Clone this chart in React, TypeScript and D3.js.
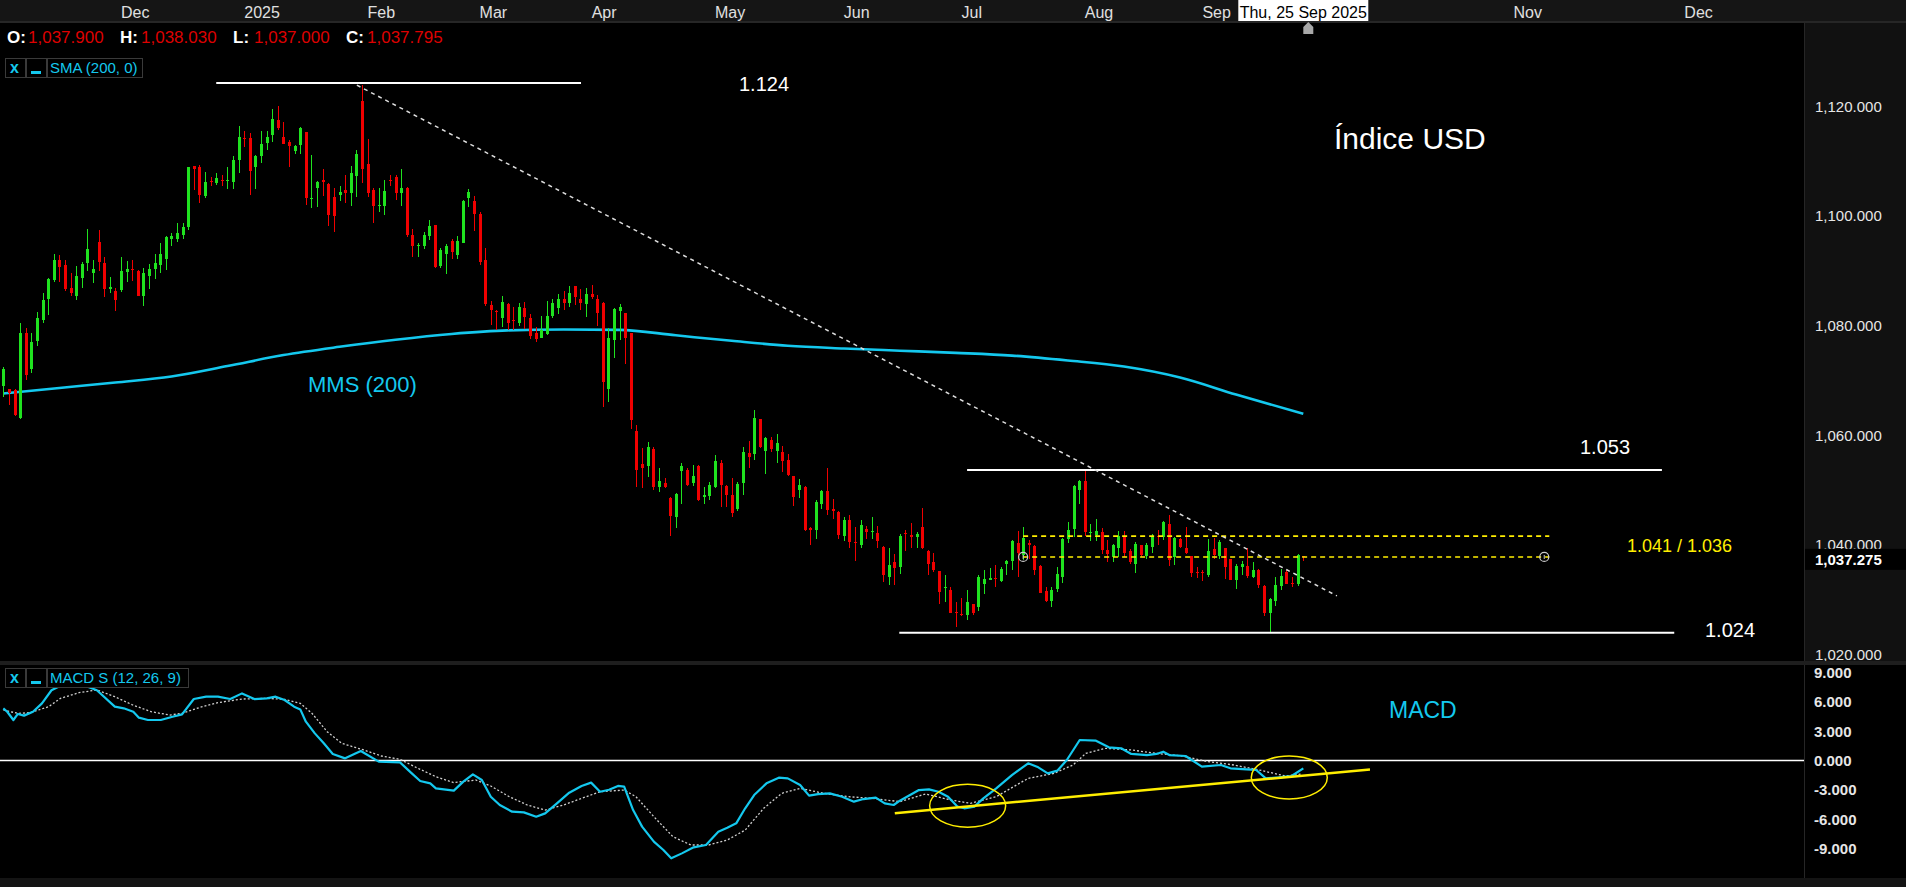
import { useEffect, useRef } from 'react';
import * as d3 from 'd3';

// daily bars [open, high, low, close], late Oct 2024 .. Thu 25 Sep 2025
const candles: number[][] = [
  [1069.0, 1072.5, 1067.0, 1072.0], [1068.5, 1068.5, 1065.5, 1067.7], [1068.2, 1068.5, 1063.5, 1063.7],
  [1063.2, 1080.4, 1062.9, 1078.7], [1078.6, 1079.5, 1070.1, 1071.0], [1072.0, 1078.6, 1071.4, 1076.9],
  [1077.2, 1082.4, 1076.3, 1081.4], [1081.0, 1086.0, 1080.5, 1084.6], [1084.9, 1088.6, 1081.9, 1088.4],
  [1088.3, 1093.0, 1088.0, 1092.0], [1092.0, 1092.8, 1088.0, 1090.7], [1091.0, 1091.9, 1086.2, 1086.6],
  [1086.8, 1089.6, 1085.4, 1085.9], [1085.3, 1090.8, 1084.6, 1089.0], [1088.7, 1091.6, 1086.8, 1091.2],
  [1091.4, 1097.5, 1090.0, 1093.9], [1089.6, 1091.9, 1087.8, 1090.2], [1095.2, 1097.4, 1090.0, 1091.6],
  [1091.4, 1092.5, 1085.1, 1086.6], [1086.6, 1088.8, 1086.0, 1087.0], [1086.3, 1086.8, 1082.7, 1084.6],
  [1086.5, 1092.4, 1086.1, 1089.9], [1089.8, 1091.7, 1088.0, 1090.2], [1090.2, 1091.9, 1088.1, 1090.1],
  [1090.0, 1090.1, 1085.3, 1085.4], [1085.3, 1090.4, 1083.6, 1089.5], [1089.1, 1091.2, 1086.6, 1090.2],
  [1090.3, 1093.0, 1088.5, 1091.4], [1091.0, 1095.0, 1089.6, 1093.1], [1092.1, 1096.3, 1090.1, 1096.1],
  [1095.8, 1096.9, 1094.5, 1096.3], [1095.7, 1098.6, 1095.3, 1096.9], [1096.4, 1098.6, 1095.8, 1097.9],
  [1098.0, 1108.9, 1097.4, 1108.8], [1109.1, 1109.1, 1104.7, 1108.6], [1108.8, 1109.3, 1102.4, 1103.8],
  [1103.6, 1107.9, 1103.2, 1106.1], [1106.4, 1107.1, 1105.4, 1106.3], [1105.9, 1107.7, 1105.6, 1106.8],
  [1106.6, 1107.4, 1105.4, 1106.5], [1106.4, 1108.8, 1104.8, 1106.5], [1106.2, 1110.9, 1104.9, 1110.2],
  [1110.1, 1116.4, 1107.7, 1114.3], [1114.2, 1115.4, 1112.6, 1114.0], [1114.2, 1115.0, 1103.7, 1108.2],
  [1108.8, 1111.1, 1104.8, 1110.9], [1110.9, 1115.5, 1109.7, 1113.0], [1113.3, 1115.4, 1112.0, 1114.3],
  [1114.7, 1119.4, 1113.5, 1117.6], [1117.5, 1120.0, 1115.7, 1115.9], [1114.3, 1117.0, 1113.1, 1113.1],
  [1113.4, 1113.8, 1108.9, 1112.7], [1111.8, 1112.9, 1111.3, 1112.7], [1112.8, 1116.2, 1111.3, 1115.9],
  [1115.2, 1115.3, 1101.9, 1103.3], [1103.1, 1111.1, 1101.4, 1103.3], [1105.1, 1106.3, 1101.5, 1106.2],
  [1106.5, 1108.5, 1103.6, 1106.2], [1105.7, 1106.0, 1098.2, 1100.1], [1103.5, 1105.1, 1097.0, 1100.0],
  [1103.8, 1105.4, 1102.6, 1104.3], [1104.7, 1107.4, 1102.3, 1104.1], [1104.1, 1109.1, 1101.7, 1107.7],
  [1107.2, 1111.9, 1103.4, 1111.3], [1120.9, 1123.9, 1106.0, 1108.6], [1109.5, 1113.9, 1103.4, 1104.1],
  [1104.6, 1105.0, 1098.7, 1101.7], [1101.9, 1105.1, 1100.7, 1102.0], [1101.8, 1106.5, 1100.1, 1104.5],
  [1106.6, 1107.4, 1105.4, 1106.5], [1107.1, 1107.4, 1102.9, 1104.2], [1104.2, 1108.5, 1101.8, 1105.0],
  [1105.0, 1105.3, 1096.2, 1096.5], [1096.5, 1097.5, 1092.4, 1094.5], [1094.5, 1095.0, 1092.4, 1094.7],
  [1094.4, 1097.1, 1093.9, 1096.5], [1096.3, 1099.2, 1095.5, 1098.1], [1098.3, 1098.3, 1090.5, 1090.7],
  [1090.8, 1094.1, 1090.5, 1093.8], [1093.1, 1094.9, 1089.3, 1094.5], [1095.4, 1095.7, 1092.1, 1093.4],
  [1092.8, 1096.3, 1092.1, 1095.4], [1095.1, 1102.9, 1095.0, 1102.7], [1103.3, 1104.8, 1101.5, 1104.3],
  [1102.7, 1103.6, 1097.3, 1100.3], [1100.3, 1100.7, 1091.1, 1091.6], [1091.9, 1094.2, 1083.6, 1083.9],
  [1083.7, 1084.5, 1080.1, 1082.8], [1082.7, 1082.9, 1079.2, 1082.6], [1081.3, 1085.4, 1079.8, 1084.2],
  [1083.9, 1084.0, 1079.1, 1080.5], [1081.0, 1083.4, 1079.2, 1080.9], [1080.5, 1084.0, 1079.9, 1083.4],
  [1083.1, 1084.2, 1079.3, 1081.5], [1081.3, 1082.1, 1077.5, 1078.0], [1078.6, 1079.7, 1076.9, 1077.6],
  [1077.8, 1081.7, 1077.7, 1079.2], [1078.4, 1084.5, 1078.3, 1081.7], [1081.8, 1084.8, 1081.3, 1084.0],
  [1083.2, 1085.7, 1082.0, 1084.9], [1084.9, 1086.3, 1082.8, 1084.0], [1084.0, 1087.1, 1083.4, 1086.0],
  [1087.1, 1087.1, 1083.8, 1085.2], [1084.8, 1086.6, 1082.8, 1084.0], [1083.9, 1086.8, 1081.6, 1085.7],
  [1085.7, 1087.4, 1084.9, 1085.2], [1084.8, 1085.6, 1079.9, 1082.2], [1084.0, 1084.2, 1065.2, 1069.6],
  [1068.5, 1079.5, 1066.0, 1077.7], [1077.3, 1083.1, 1074.1, 1083.0], [1082.6, 1083.9, 1077.3, 1083.4],
  [1082.2, 1082.3, 1072.9, 1077.7], [1078.6, 1078.7, 1061.1, 1062.8], [1060.8, 1061.9, 1050.6, 1053.6],
  [1054.8, 1057.6, 1050.3, 1054.0], [1054.3, 1058.8, 1052.3, 1057.8], [1057.4, 1057.9, 1050.0, 1050.5],
  [1050.6, 1054.1, 1049.7, 1051.6], [1051.3, 1052.1, 1050.4, 1050.6], [1048.6, 1048.8, 1041.7, 1045.3],
  [1045.0, 1049.5, 1043.1, 1049.3], [1053.5, 1054.9, 1047.5, 1054.3], [1053.7, 1054.0, 1050.8, 1051.0],
  [1051.2, 1054.6, 1050.8, 1052.6], [1054.4, 1054.6, 1048.0, 1048.2], [1048.7, 1050.5, 1047.4, 1049.1],
  [1049.0, 1051.5, 1048.2, 1050.9], [1050.6, 1056.4, 1050.3, 1055.3], [1055.0, 1055.5, 1046.9, 1050.9],
  [1050.8, 1050.9, 1046.9, 1049.1], [1049.1, 1052.1, 1045.1, 1045.9], [1046.5, 1051.5, 1046.1, 1051.1],
  [1051.2, 1057.9, 1049.1, 1057.0], [1056.7, 1058.9, 1054.0, 1056.1], [1056.6, 1064.6, 1055.5, 1063.2],
  [1062.9, 1063.0, 1057.7, 1057.9], [1057.1, 1059.7, 1053.0, 1059.4], [1059.2, 1059.6, 1057.0, 1057.4],
  [1057.1, 1060.3, 1055.0, 1058.6], [1056.9, 1058.1, 1053.2, 1055.2], [1055.5, 1056.5, 1052.6, 1052.7],
  [1052.6, 1052.6, 1047.1, 1048.8], [1050.0, 1052.0, 1048.6, 1050.9], [1050.5, 1050.7, 1042.5, 1042.8],
  [1043.1, 1043.3, 1039.9, 1042.8], [1042.7, 1048.2, 1041.0, 1047.9], [1047.5, 1050.0, 1046.5, 1049.8],
  [1049.8, 1054.1, 1045.4, 1046.4], [1046.5, 1048.4, 1044.7, 1046.2], [1046.0, 1046.2, 1041.1, 1041.8],
  [1041.7, 1045.0, 1040.7, 1044.5], [1044.5, 1045.4, 1039.4, 1040.5], [1040.5, 1043.3, 1037.0, 1040.4],
  [1040.0, 1044.5, 1039.5, 1043.7], [1042.9, 1043.4, 1041.0, 1042.4], [1042.3, 1045.1, 1041.0, 1042.5],
  [1042.1, 1043.4, 1039.5, 1040.7], [1039.7, 1039.8, 1033.3, 1034.5], [1034.2, 1039.4, 1032.7, 1036.3],
  [1036.8, 1038.3, 1032.7, 1035.8], [1036.0, 1042.0, 1034.7, 1041.7], [1042.1, 1042.7, 1038.9, 1042.0],
  [1041.8, 1043.9, 1039.4, 1041.5], [1041.5, 1042.4, 1039.5, 1041.9], [1043.3, 1046.8, 1039.2, 1039.4],
  [1038.8, 1039.1, 1034.5, 1036.6], [1036.8, 1038.6, 1035.1, 1035.5], [1035.2, 1035.2, 1029.2, 1031.5],
  [1032.2, 1034.5, 1029.6, 1032.3], [1031.8, 1032.4, 1027.5, 1027.5], [1027.8, 1029.5, 1025.1, 1027.6],
  [1027.4, 1030.3, 1027.1, 1027.2], [1027.2, 1031.8, 1026.3, 1029.5], [1029.2, 1029.2, 1027.2, 1027.5],
  [1028.6, 1034.5, 1027.9, 1034.2], [1032.9, 1035.5, 1031.0, 1033.7], [1033.6, 1035.7, 1033.6, 1034.0],
  [1033.9, 1036.3, 1032.4, 1033.8], [1033.4, 1036.0, 1033.2, 1035.6], [1036.5, 1037.2, 1034.6, 1037.0],
  [1037.0, 1040.9, 1035.4, 1040.7], [1040.3, 1042.5, 1034.2, 1038.5], [1038.1, 1043.3, 1037.2, 1041.2],
  [1040.3, 1040.9, 1037.5, 1039.9], [1039.8, 1040.0, 1034.6, 1035.4], [1036.2, 1036.3, 1031.2, 1031.3],
  [1031.6, 1032.3, 1029.6, 1029.8], [1029.8, 1032.4, 1028.7, 1031.8], [1031.9, 1035.9, 1031.5, 1034.7],
  [1034.2, 1041.2, 1033.1, 1041.0], [1041.0, 1044.1, 1040.3, 1042.8], [1042.9, 1050.9, 1041.5, 1050.7],
  [1050.0, 1051.9, 1047.4, 1051.7], [1051.7, 1053.5, 1041.7, 1042.4], [1042.2, 1043.8, 1040.7, 1042.4],
  [1041.8, 1044.7, 1040.7, 1042.5], [1042.3, 1043.1, 1038.3, 1039.0], [1039.0, 1040.8, 1036.8, 1038.4],
  [1037.7, 1040.1, 1036.9, 1039.9], [1039.5, 1042.5, 1037.8, 1041.7], [1041.6, 1042.6, 1037.8, 1038.6],
  [1038.8, 1039.2, 1036.5, 1036.9], [1036.5, 1040.5, 1034.9, 1040.2], [1039.9, 1040.0, 1037.7, 1038.2],
  [1038.0, 1040.4, 1037.4, 1040.0], [1039.7, 1041.9, 1038.5, 1041.7], [1041.7, 1042.7, 1040.0, 1041.6],
  [1041.4, 1044.4, 1040.9, 1044.1], [1043.8, 1045.4, 1036.2, 1037.2], [1037.7, 1041.5, 1036.3, 1041.3],
  [1041.0, 1041.2, 1039.4, 1039.6], [1039.4, 1043.3, 1038.3, 1038.5], [1038.0, 1038.0, 1034.2, 1034.9],
  [1035.1, 1036.0, 1033.9, 1035.0], [1035.1, 1035.4, 1033.5, 1034.9], [1034.6, 1041.0, 1034.2, 1038.8],
  [1039.2, 1041.3, 1037.5, 1038.1], [1038.0, 1040.9, 1037.5, 1040.5], [1039.4, 1039.5, 1033.7, 1036.0],
  [1037.4, 1037.4, 1033.6, 1033.6], [1033.6, 1036.5, 1032.0, 1036.2], [1035.9, 1037.1, 1034.5, 1036.6],
  [1036.2, 1039.4, 1033.9, 1034.4], [1034.1, 1036.9, 1033.9, 1035.4], [1035.4, 1035.6, 1032.1, 1032.6],
  [1032.5, 1032.7, 1027.0, 1027.6], [1027.6, 1030.4, 1024.2, 1030.1], [1029.8, 1034.2, 1028.9, 1032.7],
  [1032.5, 1035.6, 1031.8, 1034.3], [1035.1, 1035.4, 1032.9, 1032.9], [1033.0, 1034.2, 1032.4, 1032.8],
  [1032.9, 1038.3, 1032.5, 1038.2], [1037.9, 1038.03, 1037.0, 1037.795],
];

const lastPrice = 1037.275;
const lastDate = 'Thu, 25 Sep 2025';

// SMA(200) read at [bar, value]
const smaPoints: number[][] = [
  [0, 1067.6], [10, 1068.6], [20, 1069.6], [30, 1070.7], [40, 1072.6], [50, 1074.6], [60, 1076.1],
  [70, 1077.4], [80, 1078.45], [90, 1079.1], [100, 1079.25], [110, 1079.2], [120, 1078.2], [130, 1077.2],
  [140, 1076.3], [150, 1075.8], [160, 1075.4], [170, 1075.0], [180, 1074.5], [190, 1073.6], [200, 1072.5],
  [210, 1070.5], [220, 1067.4], [232, 1063.9],
];

// MACD(12,26,9) line and its signal, [bar, value]
const macdPoints: number[][] = [
  [0, 5.35], [0.7, 5.0], [1.8, 4.15], [2.6, 4.77], [3.7, 4.6], [5.3, 5.0], [6.9, 5.86], [8.6, 7.2],
  [11, 7.9], [14, 7.8], [16.7, 7.2], [19.9, 5.52], [21.5, 5.35], [23.2, 5.0], [24.2, 4.39], [25.8, 4.15],
  [28.1, 4.15], [30.2, 4.49], [31.9, 4.73], [34.0, 6.3], [36.2, 6.54], [38.3, 6.54], [40.5, 6.3],
  [42.6, 6.88], [44.8, 6.3], [47.0, 6.37], [48.6, 6.54], [50.2, 6.2], [51.9, 5.52], [53.0, 5.24],
  [54.0, 3.98], [55.6, 2.78], [57.2, 1.76], [58.8, 0.67], [61.0, 0.22], [63.8, 0.97], [67.0, -0.12],
  [70.8, -0.19], [72.9, -1.32], [74.4, -2.1], [76.2, -2.34], [77.2, -2.85], [80.4, -3.09], [82.1, -2.17],
  [83.8, -1.42], [85.4, -2.0], [87.0, -3.71], [88.6, -4.56], [90.8, -5.25], [92.9, -5.32], [95.1, -5.76],
  [96.7, -5.42], [98.8, -4.39], [101.0, -3.3], [103.2, -2.61], [104.9, -2.27], [106.5, -3.2], [108.1, -3.0],
  [109.7, -2.61], [110.8, -2.68], [112.4, -5.08], [114.0, -6.78], [116.1, -8.32], [117.8, -9.17],
  [119.2, -10.03], [121.1, -9.52], [123.2, -8.9], [125.4, -8.66], [127.6, -7.3], [129.2, -6.9],
  [130.8, -6.44], [132.4, -4.9], [134.0, -3.54], [136.2, -2.34], [138.4, -1.76], [140.0, -1.83],
  [142.2, -2.51], [143.8, -3.6], [145.4, -3.44], [147.5, -3.37], [149.7, -3.71], [151.8, -4.22],
  [153.5, -3.95], [155.7, -3.81], [157.3, -4.39], [158.9, -4.56], [160.0, -4.12], [163.4, -3.03],
  [165.2, -2.96], [166.9, -3.2], [168.6, -3.71], [170.3, -4.73], [171.5, -4.9], [173.3, -4.73],
  [174.9, -3.88], [177.2, -2.85], [180.0, -1.49], [182.9, -0.29], [184.7, -0.7], [186.4, -1.32],
  [188.1, -1.04], [189.8, 0.05], [192.1, 2.1], [195.0, 2.03], [197.3, 1.35], [199.5, 1.25], [201.3, 0.67],
  [204.1, 0.56], [205.8, 0.67], [207.0, 0.9], [208.1, 0.56], [211.0, 0.46], [213.9, -0.63], [217.3, -0.46],
  [219.0, -0.8], [221.9, -0.91], [223.6, -0.97], [225.3, -1.83], [227.6, -1.73], [229.9, -1.59], [232, -0.8],
];

const signalPoints: number[][] = [
  [0, 5.18], [2.6, 4.83], [4.8, 4.9], [8.1, 5.52], [10.2, 6.37], [13.5, 6.95], [16.7, 7.23], [19.9, 6.54],
  [23.1, 5.69], [26.4, 5.0], [29.7, 4.66], [31.9, 4.83], [35.1, 5.45], [38.3, 5.93], [42.6, 6.3],
  [47.0, 6.37], [50.2, 6.27], [53.0, 5.86], [55.1, 4.83], [57.8, 2.95], [60.4, 1.76], [64.3, 1.08],
  [67.5, 0.46], [70.8, 0.12], [74.0, -0.8], [77.2, -1.66], [80.4, -2.27], [84.3, -2.0], [87.0, -2.61],
  [90.3, -3.71], [93.5, -4.56], [96.7, -5.08], [100.0, -4.56], [103.2, -3.88], [106.5, -3.2],
  [110.8, -3.03], [112.9, -3.71], [116.1, -5.76], [119.5, -7.81], [122.7, -8.66], [125.9, -8.66],
  [129.2, -8.15], [132.4, -7.13], [135.7, -4.9], [138.9, -3.37], [142.2, -2.85], [146.5, -3.37],
  [150.8, -3.71], [155.1, -3.88], [160.0, -4.22], [164.6, -3.43], [169.1, -4.05], [172.6, -4.39],
  [177.2, -3.71], [182.9, -1.83], [187.5, -1.32], [190.9, -0.46], [193.2, 0.73], [196.6, 1.25],
  [201.3, 1.08], [205.8, 0.73], [210.4, 0.46], [215.0, -0.12], [219.6, -0.46], [224.1, -0.97],
  [228.8, -1.59], [231.6, -1.38],
];

// month labels at the bar where each month starts (future months on calendar days);
// October sits under the date flag and is not shown
const monthTicks: [string, number][] = [
  ['Dec', 21], ['2025', 43], ['Feb', 65], ['Mar', 85], ['Apr', 105], ['May', 127], ['Jun', 150],
  ['Jul', 171], ['Aug', 193], ['Sep', 214], ['Nov', 269.5], ['Dec', 300],
];
const priceTicks = [1020, 1040, 1060, 1080, 1100, 1120];
const macdTicks = [-9, -6, -3, 0, 3, 6, 9];

// drawn levels: [price, from bar, to bar]
const whiteLevels: number[][] = [[1124.2, 38, 103.1], [1053.65, 172, 296], [1024.0, 159.9, 298.2]];
const yellowLevels: number[][] = [[1041.6, 182, 275.9], [1037.8, 182, 275.9]];
const levelMarkers: number[][] = [[182, 1037.8], [275, 1037.8]];
const trendLine: number[][] = [[63.1, 1123.8], [238, 1030.7]];
const macdTrend: number[][] = [[159.1, -5.4], [243.9, -0.92]];
const macdRings: number[][] = [[172.1, -4.64], [229.5, -1.74]];

const FONT = "'Liberation Sans', Arial, sans-serif";
const GREEN = '#1fe21f';
const RED = '#f00000';
const CYAN = '#14c8ee';
const YELLOW = '#ffee00';

export default function App() {
  const svgRef = useRef<SVGSVGElement>(null);

  useEffect(() => {
    document.body.style.margin = '0';
    document.body.style.background = '#000';
    const svg = d3.select(svgRef.current);
    svg.selectAll('*').remove();

    const width = 1906;
    const height = 887;
    const axisX = 1804;
    const mainTop = 23;
    const mainBottom = 661;
    const macdTop = 665;
    const macdBottom = 878;

    const x = d3.scaleLinear().domain([0, candles.length - 1]).range([3.3, 1303.3]);
    const y = d3.scaleLinear().domain([1020, 1120]).range([654.6, 106]);
    const ym = d3.scaleLinear().domain([-9, 9]).range([848.3, 672.7]);
    const loc = d3.formatLocale({ decimal: '.', thousands: ',', grouping: [3], currency: ['', ''], minus: '-' });
    const fmtPrice = loc.format(',.3f');
    const fmtMacd = loc.format('.3f');

    svg.attr('viewBox', `0 0 ${width} ${height}`);
    svg.append('rect').attr('width', width).attr('height', height).attr('fill', '#000');

    const defs = svg.append('defs');
    defs.append('clipPath').attr('id', 'clipMain').append('rect')
      .attr('x', 0).attr('y', mainTop).attr('width', axisX).attr('height', mainBottom - mainTop);
    defs.append('clipPath').attr('id', 'clipMacd').append('rect')
      .attr('x', 0).attr('y', macdTop).attr('width', axisX).attr('height', macdBottom - macdTop);

    // ---- main pane ----
    const main = svg.append('g').attr('clip-path', 'url(#clipMain)');

    const sma = d3.line<number[]>().x((d) => x(d[0])).y((d) => y(d[1])).curve(d3.curveMonotoneX);
    main.append('path').attr('d', sma(smaPoints)).attr('fill', 'none')
      .attr('stroke', CYAN).attr('stroke-width', 2.6);

    const gC = main.append('g').attr('shape-rendering', 'crispEdges');
    gC.selectAll('.wick').data(candles).join('rect').attr('class', 'wick')
      .attr('x', (_, i) => Math.round(x(i)))
      .attr('y', (d) => y(d[1]))
      .attr('width', 1)
      .attr('height', (d) => Math.max(1, y(d[2]) - y(d[1])))
      .attr('fill', (d) => (d[3] >= d[0] ? GREEN : RED));
    gC.selectAll('.body').data(candles).join('rect').attr('class', 'body')
      .attr('x', (_, i) => Math.round(x(i)) - 1)
      .attr('y', (d) => y(Math.max(d[0], d[3])))
      .attr('width', 3)
      .attr('height', (d) => Math.max(1, Math.abs(y(d[0]) - y(d[3]))))
      .attr('fill', (d) => (d[3] >= d[0] ? GREEN : RED));

    main.selectAll('.lvl').data(whiteLevels).join('line').attr('class', 'lvl')
      .attr('x1', (d) => x(d[1])).attr('x2', (d) => x(d[2]))
      .attr('y1', (d) => y(d[0])).attr('y2', (d) => y(d[0]))
      .attr('stroke', '#fff').attr('stroke-width', 2);

    main.selectAll('.ylvl').data(yellowLevels).join('line').attr('class', 'ylvl')
      .attr('x1', (d) => x(d[1])).attr('x2', (d) => x(d[2]))
      .attr('y1', (d) => y(d[0])).attr('y2', (d) => y(d[0]))
      .attr('stroke', YELLOW).attr('stroke-width', 1.6).attr('stroke-dasharray', '5,4');

    main.append('line')
      .attr('x1', x(trendLine[0][0])).attr('y1', y(trendLine[0][1]))
      .attr('x2', x(trendLine[1][0])).attr('y2', y(trendLine[1][1]))
      .attr('stroke', '#dddddd').attr('stroke-width', 1.5).attr('stroke-dasharray', '4,4');

    levelMarkers.forEach(([b, p]) => {
      main.append('circle').attr('cx', x(b)).attr('cy', y(p)).attr('r', 4.5)
        .attr('fill', 'none').attr('stroke', '#cccccc').attr('stroke-width', 1.2);
      main.append('line').attr('x1', x(b)).attr('x2', x(b)).attr('y1', y(p) - 2).attr('y2', y(p) + 2)
        .attr('stroke', '#cccccc').attr('stroke-width', 1);
    });

    const txt = (g: any, s: string, tx: number, ty: number, size: number, fill: string, weight = 'normal') =>
      g.append('text').attr('x', tx).attr('y', ty).attr('font-family', FONT).attr('font-size', size)
        .attr('font-weight', weight).attr('fill', fill).text(s);

    txt(main, '1.124', 739, 91, 20, '#fff');
    txt(main, 'Índice USD', 1334, 149, 30, '#fff');
    txt(main, 'MMS (200)', 308, 392, 22, CYAN);
    txt(main, '1.053', 1580, 454, 20, '#fff');
    txt(main, '1.041 / 1.036', 1627, 552, 18, YELLOW);
    txt(main, '1.024', 1705, 637, 20, '#fff');

    // OHLC header
    const last = candles[candles.length - 1];
    const hdr: [string, number, number][] = [['O:', 7, last[0]], ['H:', 120, last[1]], ['L:', 233, last[2]], ['C:', 346, last[3]]];
    hdr.forEach(([k, hx, v]) => {
      txt(svg, k, hx, 43, 17, '#fff', 'bold');
      txt(svg, fmtPrice(v), hx + 21, 43, 17, '#dd0000');
    });

    // legend chips
    const chip = (top: number, label: string, w: number) => {
      const g = svg.append('g');
      [[5, 20], [26, 20], [47, w]].forEach(([bx, bw]) => {
        g.append('rect').attr('x', bx + 0.5).attr('y', top + 0.5).attr('width', bw).attr('height', 19)
          .attr('fill', '#000').attr('stroke', '#3a3a3a');
      });
      txt(g, 'x', 10, top + 15, 16, CYAN, 'bold');
      g.append('rect').attr('x', 31).attr('y', top + 13).attr('width', 10).attr('height', 3).attr('fill', CYAN);
      txt(g, label, 50, top + 15, 15, CYAN);
    };
    chip(58, 'SMA (200, 0)', 95);

    // price axis panel
    svg.append('rect').attr('x', axisX).attr('y', mainTop).attr('width', width - axisX)
      .attr('height', mainBottom - mainTop).attr('fill', '#111');
    svg.append('line').attr('x1', axisX + 0.5).attr('x2', axisX + 0.5).attr('y1', mainTop).attr('y2', macdBottom)
      .attr('stroke', '#262626');
    priceTicks.forEach((t) => txt(svg, fmtPrice(t), 1815, y(t) + 5.5, 15, '#e6e6e6'));
    svg.append('rect').attr('x', axisX + 1).attr('y', y(lastPrice) - 11).attr('width', width - axisX)
      .attr('height', 21).attr('fill', '#000');
    txt(svg, fmtPrice(lastPrice), 1815, y(lastPrice) + 5.5, 15, '#fff', 'bold');

    // pane separator
    svg.append('rect').attr('x', 0).attr('y', mainBottom).attr('width', width).attr('height', macdTop - mainBottom)
      .attr('fill', '#1e1e1e');

    // ---- MACD pane ----
    const mp = svg.append('g').attr('clip-path', 'url(#clipMacd)');
    mp.append('line').attr('x1', 0).attr('x2', axisX).attr('y1', ym(0)).attr('y2', ym(0))
      .attr('stroke', '#fff').attr('stroke-width', 1.5);
    const ml = d3.line<number[]>().x((d) => x(d[0])).y((d) => ym(d[1]));
    mp.append('path').attr('d', ml(signalPoints)).attr('fill', 'none')
      .attr('stroke', '#cfcfcf').attr('stroke-width', 1.3).attr('stroke-dasharray', '2,2');
    mp.append('path').attr('d', ml(macdPoints)).attr('fill', 'none')
      .attr('stroke', CYAN).attr('stroke-width', 2.2).attr('stroke-linejoin', 'round');
    mp.append('line')
      .attr('x1', x(macdTrend[0][0])).attr('y1', ym(macdTrend[0][1]))
      .attr('x2', x(macdTrend[1][0])).attr('y2', ym(macdTrend[1][1]))
      .attr('stroke', YELLOW).attr('stroke-width', 2.5);
    macdRings.forEach(([b, v]) => {
      mp.append('ellipse').attr('cx', x(b)).attr('cy', ym(v)).attr('rx', 38).attr('ry', 21.5)
        .attr('fill', 'none').attr('stroke', YELLOW).attr('stroke-width', 1.5);
    });
    txt(mp, 'MACD', 1389, 718, 23, CYAN);
    chip(668, 'MACD S (12, 26, 9)', 141);

    macdTicks.forEach((t) => txt(svg, fmtMacd(t), 1814, ym(t) + 5.5, 15, '#e6e6e6', 'bold'));

    // bottom strip
    svg.append('rect').attr('x', 0).attr('y', macdBottom).attr('width', width).attr('height', height - macdBottom)
      .attr('fill', '#141414');

    // ---- time axis ----
    svg.append('rect').attr('x', 0).attr('y', 0).attr('width', width).attr('height', 21).attr('fill', '#151515');
    svg.append('rect').attr('x', 0).attr('y', 21).attr('width', width).attr('height', 2).attr('fill', '#262626');
    monthTicks.forEach(([m, b]) => txt(svg, m, x(b), 18, 16, '#e0e0e0'));
    const cx = x(candles.length - 1);
    svg.append('rect').attr('x', cx - 65).attr('y', 0).attr('width', 130).attr('height', 21).attr('fill', '#fff');
    txt(svg, lastDate, cx, 18, 16, '#000').attr('text-anchor', 'middle');
    svg.append('path')
      .attr('d', `M${cx},34 L${cx},27 L${cx + 5},22 L${cx + 10},27 L${cx + 10},34 Z`)
      .attr('fill', '#a8a8a8');
  }, []);

  return <svg ref={svgRef} width={1906} height={887} style={{ display: 'block' }} />;
}
